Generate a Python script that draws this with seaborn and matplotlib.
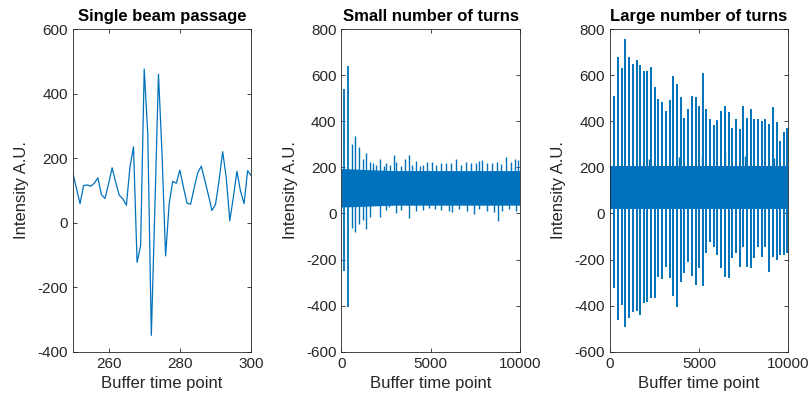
import numpy as np
import pandas as pd
import matplotlib
matplotlib.use("Agg")
import matplotlib.pyplot as plt
import seaborn as sns

sns.set_style("ticks")
plt.rcParams['font.family'] = ['Liberation Sans', 'DejaVu Sans']
plt.rcParams['axes.unicode_minus'] = False

BLUE = "#0072BD"
AXC = "#262626"

# --- single beam passage (buffer points 250..300) ---
single_t = list(range(250, 301))
single_val = [153, 106, 59, 115, 117, 113, 122, 139, 87, 75,
              120, 170, 125, 85, 74, 54, 172, 235, -123, -70,
              476, 275, -349, 50, 460, 213, -103, 59, 128, 122,
              163, 110, 61, 57, 107, 154, 175, 131, 86, 38,
              57, 131, 220, 141, 6, 79, 159, 98, 59, 161, 146]

# --- small number of turns ---
small_band_x = [0, 1500, 3000, 10000]
small_band_lo = [28, 32, 36, 36]
small_band_hi = [195, 190, 186, 186]
small_spike_pos = [150, 370]
small_spike_top = [539, 641]
small_spike_bot = [-248, -405]
small_up_pos = [580, 768, 993, 1218, 1386, 1610, 1797, 1929, 2172, 2378, 2528, 2715,
                2959, 3090, 3334, 3559, 3784, 3971, 4177, 4401, 4588, 4813, 5056, 5280,
                5562, 5843, 6124, 6405, 6686, 6967, 7248, 7529, 7716, 7903, 8184, 8465,
                8708, 8933, 9214, 9495, 9738, 9925]
small_up_val = [302, 334, 290, 235, 264, 225, 218, 209, 238, 206, 218, 209,
                255, 225, 205, 238, 255, 210, 228, 205, 209, 225, 225, 210,
                218, 218, 220, 235, 210, 225, 218, 218, 228, 231, 218, 218,
                225, 214, 247, 225, 235, 231]
small_dn_pos = [580, 768, 993, 1218, 1386, 1610, 2172, 2528, 2650, 3090, 3334, 3784,
                4177, 4588, 4906, 5243, 5562, 6030, 6218, 6592, 7060, 7435, 7716, 8184,
                8550, 8764, 9030, 9400, 9780]
small_dn_val = [-64, -79, -46, -28, -69, -14, -17, 15, 30, 1, 15, -21,
                10, 15, 22, 20, 13, 9, 8, 20, 10, -2, 20, 10,
                5, -31, 12, 20, 12]

# --- large number of turns ---
large_band_x = [0, 10000]
large_band_lo = [18, 18]
large_band_hi = [205, 205]
large_spike_pos = [242, 466, 670, 875, 1080, 1285, 1508, 1695, 1918, 2104, 2309, 2532,
                   2719, 2942, 3147, 3352, 3557, 3762, 3966, 4171, 4376, 4600, 4805, 5009,
                   5214, 5419, 5623, 5828, 6033, 6238, 6443, 6666, 6871, 7076, 7281, 7486,
                   7690, 7895, 8100, 8305, 8510, 8714, 8938, 9143, 9348, 9553, 9757, 9962]
large_spike_top = [510, 680, 630, 755, 680, 650, 665, 645, 620, 620, 635, 550,
                   495, 485, 445, 490, 595, 560, 505, 415, 455, 510, 505, 465,
                   610, 455, 410, 385, 405, 445, 465, 440, 370, 410, 365, 465,
                   415, 455, 410, 410, 400, 410, 390, 460, 395, 315, 355, 370]
large_spike_bot = [-325, -462, -397, -491, -452, -426, -423, -441, -387, -383, -368, -365,
                   -277, -283, -231, -281, -358, -407, -297, -260, -209, -271, -312, -235,
                   -315, -173, -125, -147, -180, -238, -274, -281, -195, -173, -231, -147,
                   -231, -238, -195, -144, -187, -144, -252, -187, -202, -180, -180, -173]
large_up_pos = [2200, 3870, 5160, 6480, 7560, 9180]
large_up_val = [235, 245, 255, 265, 250, 240]

fig, axes = plt.subplots(1, 3, figsize=(8.1, 4.03), dpi=100)
fig.subplots_adjust(left=0.090, right=0.973, bottom=0.127, top=0.928, wspace=0.506)

# panel 1
ax = axes[0]
df1 = pd.DataFrame({"t": single_t, "v": single_val})
sns.lineplot(data=df1, x="t", y="v", ax=ax, color=BLUE, linewidth=0.9)
ax.set_xlim(250, 300)
ax.set_ylim(-400, 600)
ax.set_xticks([260, 280, 300])
ax.set_yticks(range(-400, 601, 200))
ax.set_title("Single beam passage")

# panel 2
ax = axes[1]
ax.fill_between(small_band_x, small_band_lo, small_band_hi, color=BLUE, lw=0)
ax.vlines(small_up_pos, 110, small_up_val, color=BLUE, lw=1.0)
ax.vlines(small_dn_pos, small_dn_val, 110, color=BLUE, lw=1.0)
ax.vlines(small_spike_pos, small_spike_bot, small_spike_top, color=BLUE, lw=1.3)
ax.set_xlim(0, 10000)
ax.set_ylim(-600, 800)
ax.set_title("Small number of turns")

# panel 3
ax = axes[2]
ax.fill_between(large_band_x, large_band_lo, large_band_hi, color=BLUE, lw=0)
ax.vlines(large_up_pos, 110, large_up_val, color=BLUE, lw=1.0)
ax.vlines(large_spike_pos, large_spike_bot, large_spike_top, color=BLUE, lw=1.4)
ax.set_xlim(0, 10000)
ax.set_ylim(-600, 800)
ax.set_title("Large number of turns")

for ax in axes:
    if ax is not axes[0]:
        ax.set_xticks([0, 5000, 10000])
        ax.set_yticks(range(-600, 801, 200))
    ax.set_xlabel("Buffer time point", fontsize=12, color=AXC)
    ax.set_ylabel("Intensity A.U.", fontsize=12, color=AXC, labelpad=6)
    ax.title.set_fontsize(12)
    ax.title.set_fontweight("bold")
    ax.title.set_color("black")
    ax.tick_params(direction="in", length=3, width=0.6, labelsize=11,
                   top=True, right=True, colors=AXC)
    for s in ax.spines.values():
        s.set_visible(True)
        s.set_color(AXC)
        s.set_linewidth(0.6)

fig.savefig("out.png", dpi=100)
